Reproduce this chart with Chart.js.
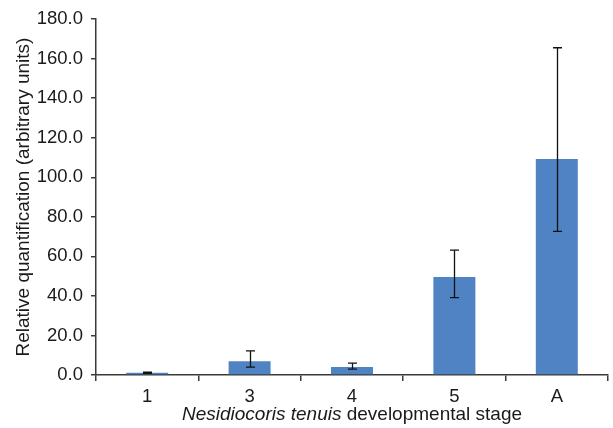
<!DOCTYPE html>
<html lang="en">
<head>
  <meta charset="UTF-8" />
  <title>Relative quantification</title>
  <script src="https://cdn.jsdelivr.net/npm/chart.js"></script>
  <style>
    html, body { margin: 0; padding: 0; background: #fff; }
    #wrap { width: 613px; height: 428px; }
  </style>
</head>
<body>
  <div id="wrap"><canvas id="chart" width="613" height="428"></canvas></div>

  <script>
    const stages = ["1", "3", "4", "5", "A"];
    const means = [1.1, 7.0, 4.0, 49.6, 109.3];
    const errLow = [0.8, 4.0, 3.0, 39.1, 72.6];
    const errHigh = [1.4, 12.2, 6.0, 63.2, 165.5];

    const axisColor = "#3a3a3a";
    const fontFamily = "'Liberation Sans', Arial, sans-serif";

    // whiskers drawn through the chart's own scales
    const errorBars = {
      id: "errorBars",
      afterDatasetsDraw(chart) {
        const { ctx, scales: { x, y } } = chart;
        ctx.save();
        ctx.strokeStyle = "#111";
        ctx.lineWidth = 1.3;
        stages.forEach((s, i) => {
          const px = Math.round(x.getPixelForValue(i)) + 0.5;
          const top = y.getPixelForValue(errHigh[i]);
          const bot = y.getPixelForValue(errLow[i]);
          ctx.beginPath();
          ctx.moveTo(px, top); ctx.lineTo(px, bot);
          ctx.moveTo(px - 4.5, top); ctx.lineTo(px + 4.5, top);
          ctx.moveTo(px - 4.5, bot); ctx.lineTo(px + 4.5, bot);
          ctx.stroke();
        });
        ctx.restore();
      }
    };

    // x title with the species name in italics
    const xTitle = {
      id: "xTitle",
      afterDraw(chart) {
        const { ctx, chartArea } = chart;
        const parts = [["italic", "Nesidiocoris tenuis"], ["normal", " developmental stage"]];
        ctx.save();
        ctx.fillStyle = "#1a1a1a";
        ctx.textBaseline = "middle";
        let total = 0;
        parts.forEach(p => { ctx.font = p[0] + " 19px " + fontFamily; total += ctx.measureText(p[1]).width; });
        let cx = (chartArea.left + chartArea.right) / 2 - total / 2;
        parts.forEach(p => {
          ctx.font = p[0] + " 19px " + fontFamily;
          ctx.fillText(p[1], cx, 415);
          cx += ctx.measureText(p[1]).width;
        });
        ctx.restore();
      }
    };

    new Chart(document.getElementById("chart"), {
      type: "bar",
      data: {
        labels: stages,
        datasets: [{
          data: means,
          backgroundColor: "#4f83c4",
          barPercentage: 0.41,
          categoryPercentage: 1.0
        }]
      },
      options: {
        responsive: false,
        animation: false,
        layout: { padding: { top: 16, right: 5, left: 0, bottom: 0 } },
        plugins: { legend: { display: false }, tooltip: { enabled: false } },
        scales: {
          x: {
            grid: { display: true, drawOnChartArea: false, offset: true, tickLength: 6, color: axisColor, lineWidth: 1.5 },
            border: { color: axisColor, width: 1.5 },
            ticks: { color: "#1a1a1a", font: { family: fontFamily, size: 18.5 }, padding: 5 },
            afterFit(scale) { scale.height = 53; }
          },
          y: {
            min: 0,
            max: 180,
            grid: { display: true, drawOnChartArea: false, tickLength: 5, color: axisColor, lineWidth: 1.5 },
            border: { color: axisColor, width: 1.5 },
            ticks: {
              stepSize: 20,
              color: "#1a1a1a",
              font: { family: fontFamily, size: 18.5 },
              padding: 8,
              callback: v => v.toFixed(1)
            },
            title: {
              display: true,
              text: "Relative quantification (arbitrary units)",
              color: "#1a1a1a",
              font: { family: fontFamily, size: 19 },
              padding: { top: 12, bottom: 0 }
            },
            afterFit(scale) { scale.width = 96; }
          }
        }
      },
      plugins: [errorBars, xTitle]
    });
  </script>
</body>
</html>
